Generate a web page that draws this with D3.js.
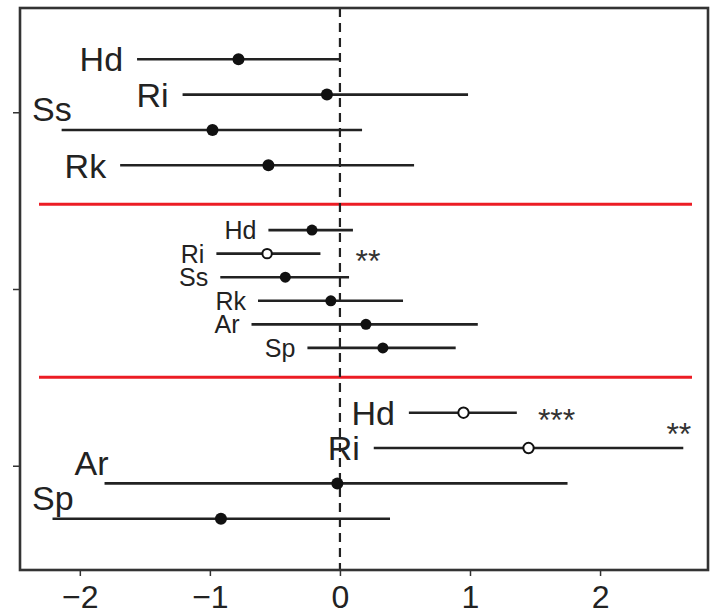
<!DOCTYPE html>
<html>
<head>
<meta charset="utf-8">
<script src="https://cdn.jsdelivr.net/npm/d3@7"></script>
<style>
  body { margin: 0; background: #fff; }
  svg { display: block; font-family: "Liberation Sans", Arial, sans-serif; }
</style>
</head>
<body>
<div id="chart"></div>
<script>
// estimates with interval ends
const topTerms = ["Hd", "Ri", "Ss", "Rk"]
const topEst = [-0.78, -0.10, -0.98, -0.55]
const topLo = [-1.56, -1.21, -2.14, -1.69]
const topHi = [0.00, 0.985, 0.17, 0.57]
const topSig = ["", "", "", ""]

const midTerms = ["Hd", "Ri", "Ss", "Rk", "Ar", "Sp"]
const midEst = [-0.215, -0.56, -0.42, -0.07, 0.20, 0.33]
const midLo = [-0.55, -0.95, -0.92, -0.63, -0.68, -0.25]
const midHi = [0.10, -0.15, 0.07, 0.485, 1.06, 0.89]
const midSig = ["", "**", "", "", "", ""]

const botTerms = ["Hd", "Ri", "Ar", "Sp"]
const botEst = [0.95, 1.45, -0.02, -0.915]
const botLo = [0.53, 0.26, -1.81, -2.21]
const botHi = [1.36, 2.64, 1.75, 0.385]
const botSig = ["***", "**", "", ""]

const groupPos = [3, 2, 1]
const separators = [1.5, 2.48]
const xTicks = [-2, -1, 0, 1, 2]
const yTicks = [1, 2, 3]

const width = 715, height = 614
const margin = { top: 8, right: 7, bottom: 44, left: 20 }

const svg = d3.select("#chart").append("svg")
  .attr("width", width)
  .attr("height", height)

const x = d3.scaleLinear().domain([-2.46, 2.83]).range([margin.left, width - margin.right])
const y = d3.scaleLinear().domain([0.41, 3.59]).range([height - margin.bottom, margin.top])

function makeRows(terms, est, lo, hi, sig) {
  return terms.map((t, i) => ({ term: t, est: est[i], lo: lo[i], hi: hi[i], sig: sig[i] }))
}

const groups = [
  { pos: groupPos[0], rows: makeRows(topTerms, topEst, topLo, topHi, topSig), font: 34, r: 6 },
  { pos: groupPos[1], rows: makeRows(midTerms, midEst, midLo, midHi, midSig), font: 25, r: 5.5 },
  { pos: groupPos[2], rows: makeRows(botTerms, botEst, botLo, botHi, botSig), font: 34, r: 6 }
]

// red separators
svg.selectAll(".sep").data(separators).enter().append("line")
  .attr("x1", 39).attr("x2", 692)
  .attr("y1", d => y(d)).attr("y2", d => y(d))
  .attr("stroke", "#ec1c24").attr("stroke-width", 3)

// zero reference
svg.append("line")
  .attr("x1", x(0)).attr("x2", x(0))
  .attr("y1", margin.top).attr("y2", height - margin.bottom)
  .attr("stroke", "#222").attr("stroke-width", 2.2)
  .attr("stroke-dasharray", "9,6")

const plotLeft = margin.left, plotRight = width - margin.right

groups.forEach(gr => {
  const n = gr.rows.length
  const step = 0.8 / n
  const g = svg.append("g")
  gr.rows.forEach((d, i) => {
    const yy = y(gr.pos + ((n - 1) / 2 - i) * step)
    g.append("line")
      .attr("x1", x(d.lo)).attr("x2", x(d.hi))
      .attr("y1", yy).attr("y2", yy)
      .attr("stroke", "#222").attr("stroke-width", 2.6)

    g.append("circle")
      .attr("cx", x(d.est)).attr("cy", yy)
      .attr("r", d.sig ? gr.r - 0.8 : gr.r)
      .attr("fill", d.sig ? "#fff" : "#111")
      .attr("stroke", "#111")
      .attr("stroke-width", d.sig ? 2 : 0)

    // label: left of the interval, or raised above it when the interval runs far left
    const label = g.append("text")
      .attr("font-size", gr.font)
      .attr("fill", "#222")
      .text(d.term)
    if (d.lo < -1.75) {
      label.attr("x", Math.max(x(d.lo) - 30, plotLeft + 12))
        .attr("y", yy - 21 + gr.font * 0.36)
        .attr("text-anchor", "start")
    } else {
      label.attr("x", x(d.lo) - (gr.font > 30 ? 14 : 12))
        .attr("y", yy + gr.font * 0.36)
        .attr("text-anchor", "end")
    }

    if (d.sig) {
      const starFont = 32
      const gap = gr.font * 0.62
      const sx = Math.max(x(d.hi), x(0)) + gap
      const sw = d.sig.length * starFont * 0.389
      const star = g.append("text")
        .attr("font-size", starFont)
        .attr("fill", "#333")
        .text(d.sig)
      if (sx + sw > plotRight - 8) {
        star.attr("x", x(d.hi) + 8).attr("text-anchor", "end")
          .attr("y", yy - 21 + starFont * 0.57)
      } else {
        star.attr("x", sx).attr("text-anchor", "start")
          .attr("y", yy + starFont * 0.57)
      }
    }
  })
})

// axes
const xAxis = svg.append("g")
  .attr("transform", `translate(0,${height - margin.bottom})`)
  .call(d3.axisBottom(x).tickValues(xTicks).tickFormat(d3.format("d"))
    .tickSize(6).tickSizeOuter(0).tickPadding(9))
xAxis.select(".domain").remove()
xAxis.selectAll("text").attr("font-size", 32).attr("fill", "#222").attr("font-family", "Liberation Sans, Arial, sans-serif")
xAxis.selectAll(".tick line").attr("stroke", "#333").attr("stroke-width", 1.5)

const yAxis = svg.append("g")
  .attr("transform", `translate(${margin.left},0)`)
  .call(d3.axisLeft(y).tickValues(yTicks).tickSize(7).tickSizeOuter(0).tickFormat(""))
yAxis.select(".domain").remove()
yAxis.selectAll(".tick line").attr("stroke", "#333").attr("stroke-width", 1.5)

// frame
svg.append("rect")
  .attr("x", margin.left).attr("y", margin.top)
  .attr("width", width - margin.left - margin.right)
  .attr("height", height - margin.top - margin.bottom)
  .attr("fill", "none").attr("stroke", "#333").attr("stroke-width", 2.6)
</script>
</body>
</html>
